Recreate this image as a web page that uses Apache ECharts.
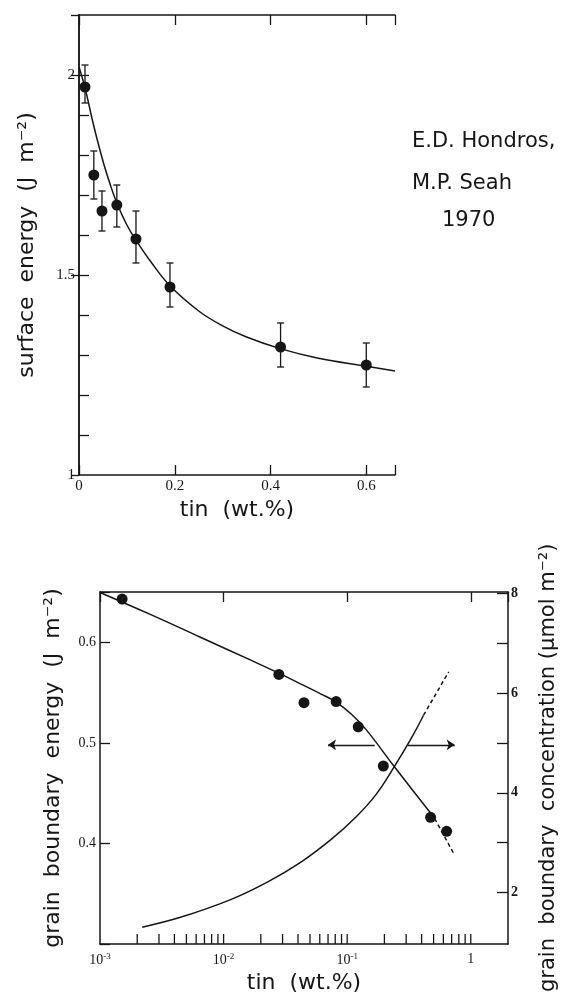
<!DOCTYPE html>
<html>
<head>
<meta charset="utf-8">
<script src="https://cdn.jsdelivr.net/npm/echarts@6/dist/echarts.min.js"></script>
<style>
  html, body { margin: 0; padding: 0; background: #fff; }
  #chart { width: 568px; height: 995px; }
</style>
</head>
<body>
<div id="chart"></div>
<script>
// Top panel: surface energy vs tin (Hondros & Seah 1970)
var TOP_TIN = [0.0125, 0.031, 0.048, 0.079, 0.119, 0.19, 0.421, 0.6];
var TOP_ENERGY = [1.97, 1.75, 1.66, 1.675, 1.59, 1.47, 1.32, 1.275];
var TOP_ERR_LOW = [1.93, 1.69, 1.61, 1.62, 1.53, 1.42, 1.27, 1.22];
var TOP_ERR_HIGH = [2.025, 1.81, 1.71, 1.725, 1.66, 1.53, 1.38, 1.33];
var TOP_FIT_TIN = [0, 0.0125, 0.03, 0.05, 0.065, 0.079, 0.1, 0.119, 0.15, 0.19, 0.25, 0.3, 0.35, 0.42, 0.5, 0.6, 0.66];
var TOP_FIT_ENERGY = [2.02, 1.968, 1.877, 1.785, 1.727, 1.680, 1.625, 1.587, 1.533, 1.473, 1.410, 1.373, 1.345, 1.316, 1.292, 1.272, 1.26];
var TOP_X_LABELS = [0, 0.2, 0.4, 0.6];
var TOP_Y_TICKS = [1.1, 1.2, 1.3, 1.4, 1.5, 1.6, 1.7, 1.8, 1.9, 2.0];
var TOP_Y_LABELS = [1, 1.5, 2];

// Bottom panel: grain boundary energy (left) and concentration (right), log tin axis
var GB_TIN = [0.00151, 0.028, 0.0447, 0.0814, 0.1228, 0.196, 0.473, 0.638];
var GB_ENERGY = [0.643, 0.568, 0.540, 0.541, 0.516, 0.477, 0.426, 0.412];
var GB_FIT_TIN = [0.001, 0.00255, 0.0065, 0.0166, 0.028, 0.0423, 0.0615, 0.0814, 0.1078, 0.1429, 0.2411, 0.4556, 0.5098];
var GB_FIT_ENERGY = [0.6495, 0.6277, 0.605, 0.5822, 0.5693, 0.5584, 0.5485, 0.5406, 0.5287, 0.5129, 0.4762, 0.4327, 0.4248];
var GB_DASH_TIN = [0.5098, 0.7414];
var GB_DASH_ENERGY = [0.4248, 0.3881];
var CONC_TIN = [0.002195, 0.004472, 0.0114, 0.02279, 0.04227, 0.07414, 0.1183, 0.1721, 0.2411, 0.3313, 0.4148];
var CONC = [1.31, 1.507, 1.862, 2.217, 2.612, 3.066, 3.52, 3.974, 4.527, 5.099, 5.553];
var CONC_DASH_TIN = [0.4148, 0.6626];
var CONC_DASH = [5.553, 6.421];
// arrows: [from, to] in tin, at a level on the left axis
var ARROW_LEVEL = 0.498;
var ARROW_LEFT = [0.167, 0.07];
var ARROW_RIGHT = [0.31, 0.741];
var LOG_TICKS = [0.002, 0.003, 0.004, 0.005, 0.006, 0.007, 0.008, 0.009, 0.01,
                 0.02, 0.03, 0.04, 0.05, 0.06, 0.07, 0.08, 0.09, 0.1,
                 0.2, 0.3, 0.4, 0.5, 0.6, 0.7, 0.8, 0.9, 1];
var LOG_LABEL_VALUES = [0.001, 0.01, 0.1, 1];
var LOG_LABEL_BASE = ["10", "10", "10", "1"];
var LOG_LABEL_EXP = ["-3", "-2", "-1", ""];
var GB_Y_LABELS = [0.4, 0.5, 0.6];
var CONC_TICKS = [2, 3, 4, 5, 6, 7, 8];
var CONC_LABELS = [2, 4, 6, 8];

var INK = "#161616";
var SANS = "DejaVu Sans";
var SERIF = "Liberation Serif";

function zip(a, b) { return a.map(function (v, i) { return [v, b[i]]; }); }
function pick(list, text) {
  return function (v) {
    for (var i = 0; i < list.length; i++) {
      if (Math.abs(v - list[i]) < 1e-6) return text ? text(i, list[i]) : String(list[i]);
    }
    return "";
  };
}

var axisLine = { show: true, lineStyle: { color: INK, width: 1.5 } };
var tickIn = { show: true, inside: true, length: 10, lineStyle: { color: INK, width: 1.3 } };
var dot = { color: INK, opacity: 1 };

function curve(xi, yi, data, dashed) {
  return { type: "line", xAxisIndex: xi, yAxisIndex: yi, data: data, silent: true,
           smooth: dashed ? false : 0.4, symbol: "none",
           lineStyle: { color: INK, width: 1.5, type: dashed ? [4, 3] : "solid" } };
}

var chart = echarts.init(document.getElementById("chart"));
chart.setOption({
  animation: false,
  grid: [
    { left: 79, top: 15, width: 316, height: 460 },
    { left: 100, top: 592, width: 408, height: 352 },
    { left: 100, top: 593, width: 408, height: 355 }
  ],
  xAxis: [
    { gridIndex: 0, type: "value", min: 0, max: 0.66, interval: 0.2, position: "bottom",
      axisLine: axisLine, axisTick: tickIn, splitLine: { show: false },
      axisLabel: { formatter: pick(TOP_X_LABELS), fontFamily: SERIF, fontSize: 15, color: INK, margin: 4 },
      name: "tin  (wt.%)", nameLocation: "middle", nameGap: 24,
      nameTextStyle: { fontFamily: SANS, fontSize: 22, color: INK } },
    { gridIndex: 0, type: "value", min: 0, max: 0.66, interval: 0.2, position: "top",
      axisLine: axisLine, axisTick: tickIn, axisLabel: { show: false }, splitLine: { show: false } },
    { gridIndex: 1, type: "log", logBase: 10, min: 0.001, max: 2, position: "bottom",
      axisLine: axisLine, axisTick: { show: false }, splitLine: { show: false },
      axisLabel: {
        margin: 8, color: INK,
        formatter: pick(LOG_LABEL_VALUES, function (i) {
          return "{b|" + LOG_LABEL_BASE[i] + "}" + (LOG_LABEL_EXP[i] ? "{s|" + LOG_LABEL_EXP[i] + "}" : "");
        }),
        rich: {
          b: { fontFamily: SERIF, fontSize: 14, color: INK },
          s: { fontFamily: SERIF, fontSize: 9, color: INK, verticalAlign: "top", padding: [0, 0, 7, 0] }
        }
      },
      name: "tin  (wt.%)", nameLocation: "middle", nameGap: 28,
      nameTextStyle: { fontFamily: SANS, fontSize: 22, color: INK } },
    { gridIndex: 1, type: "log", logBase: 10, min: 0.001, max: 2, position: "top",
      axisLine: axisLine, axisTick: tickIn, axisLabel: { show: false }, splitLine: { show: false } },
    { gridIndex: 2, type: "log", logBase: 10, min: 0.001, max: 2, show: false }
  ],
  yAxis: [
    { gridIndex: 0, type: "value", min: 1, max: 2.15, interval: 0.1, position: "left",
      axisLine: axisLine, axisTick: Object.assign({ customValues: TOP_Y_TICKS }, tickIn), splitLine: { show: false },
      axisLabel: { customValues: TOP_Y_LABELS, formatter: pick(TOP_Y_LABELS), fontFamily: SERIF, fontSize: 15, color: INK, margin: 4 },
      name: "surface  energy  (J  m\u207B\u00B2)", nameLocation: "middle", nameRotate: 90, nameGap: 41,
      nameTextStyle: { fontFamily: SANS, fontSize: 22, color: INK } },
    { gridIndex: 0, type: "value", min: 1, max: 2.15, interval: 0.5, position: "right",
      axisLine: axisLine, axisTick: { show: true, inside: true, length: 8, lineStyle: { color: INK, width: 1.3 } },
      axisLabel: { show: false }, splitLine: { show: false } },
    { gridIndex: 1, type: "value", min: 0.3, max: 0.65, interval: 0.1, position: "left",
      axisLine: axisLine, axisTick: tickIn, splitLine: { show: false },
      axisLabel: { formatter: pick(GB_Y_LABELS), fontFamily: SERIF, fontSize: 14, color: INK, margin: 4 },
      name: "grain  boundary  energy  (J  m\u207B\u00B2)", nameLocation: "middle", nameRotate: 90, nameGap: 36,
      nameTextStyle: { fontFamily: SANS, fontSize: 22, color: INK } },
    { gridIndex: 1, type: "value", min: 0.3, max: 0.65, position: "right",
      axisLine: axisLine, axisTick: { show: false }, axisLabel: { show: false }, splitLine: { show: false } },
    { gridIndex: 2, type: "value", min: 1, max: 8, interval: 1, position: "right",
      axisLine: { show: false }, splitLine: { show: false },
      axisTick: { show: true, inside: true, length: 11, customValues: CONC_TICKS, lineStyle: { color: INK, width: 1.3 } },
      axisLabel: { customValues: CONC_LABELS, formatter: pick(CONC_LABELS), fontFamily: SERIF, fontWeight: "bold", fontSize: 14, color: INK, margin: 3 },
      name: "grain  boundary  concentration (\u03BCmol m\u207B\u00B2)", nameLocation: "middle", nameRotate: 90, nameGap: 30,
      nameTextStyle: { fontFamily: SANS, fontSize: 21, color: INK } }
  ],
  graphic: [
    { type: "text", left: 412, top: 131, style: { text: "E.D. Hondros,", font: "21px " + SANS, fill: INK } },
    { type: "text", left: 412, top: 173, style: { text: "M.P. Seah", font: "21px " + SANS, fill: INK } },
    { type: "text", left: 442, top: 210, style: { text: "1970", font: "21px " + SANS, fill: INK } }
  ],
  series: [
    curve(0, 0, zip(TOP_FIT_TIN, TOP_FIT_ENERGY)),
    { type: "custom", xAxisIndex: 0, yAxisIndex: 0,
      data: TOP_TIN.map(function (x, i) { return [x, TOP_ERR_LOW[i], TOP_ERR_HIGH[i]]; }),
      encode: { x: 0, y: [1, 2] },
      renderItem: function (params, api) {
        var lo = api.coord([api.value(0), api.value(1)]);
        var hi = api.coord([api.value(0), api.value(2)]);
        var w = 3.5, st = { stroke: INK, lineWidth: 1.3 };
        return { type: "group", children: [
          { type: "line", shape: { x1: lo[0], y1: lo[1], x2: hi[0], y2: hi[1] }, style: st },
          { type: "line", shape: { x1: lo[0] - w, y1: lo[1], x2: lo[0] + w, y2: lo[1] }, style: st },
          { type: "line", shape: { x1: hi[0] - w, y1: hi[1], x2: hi[0] + w, y2: hi[1] }, style: st }
        ] };
      } },
    { type: "scatter", xAxisIndex: 0, yAxisIndex: 0, data: zip(TOP_TIN, TOP_ENERGY),
      symbolSize: 11, itemStyle: dot },

    curve(2, 2, zip(GB_FIT_TIN, GB_FIT_ENERGY)),
    curve(2, 2, zip(GB_DASH_TIN, GB_DASH_ENERGY), true),
    { type: "scatter", xAxisIndex: 2, yAxisIndex: 2, data: zip(GB_TIN, GB_ENERGY),
      symbolSize: 11, itemStyle: dot },
    curve(4, 4, zip(CONC_TIN, CONC)),
    curve(4, 4, zip(CONC_DASH_TIN, CONC_DASH), true),
    { type: "lines", coordinateSystem: "cartesian2d", xAxisIndex: 2, yAxisIndex: 2,
      symbol: ["none", "arrow"], symbolSize: 8, silent: true,
      lineStyle: { color: INK, width: 1.4, opacity: 1 },
      data: [
        { coords: [[ARROW_LEFT[0], ARROW_LEVEL], [ARROW_LEFT[1], ARROW_LEVEL]] },
        { coords: [[ARROW_RIGHT[0], ARROW_LEVEL], [ARROW_RIGHT[1], ARROW_LEVEL]] }
      ] },
    // bottom log ticks (2..9 per decade), standing on the lower frame
    { type: "scatter", xAxisIndex: 2, yAxisIndex: 2, clip: false, silent: true,
      data: LOG_TICKS.map(function (v) { return [v, 0.3]; }),
      symbol: "rect", symbolSize: [1.3, 10], symbolOffset: [0, -5], itemStyle: dot }
  ]
});
</script>
</body>
</html>
